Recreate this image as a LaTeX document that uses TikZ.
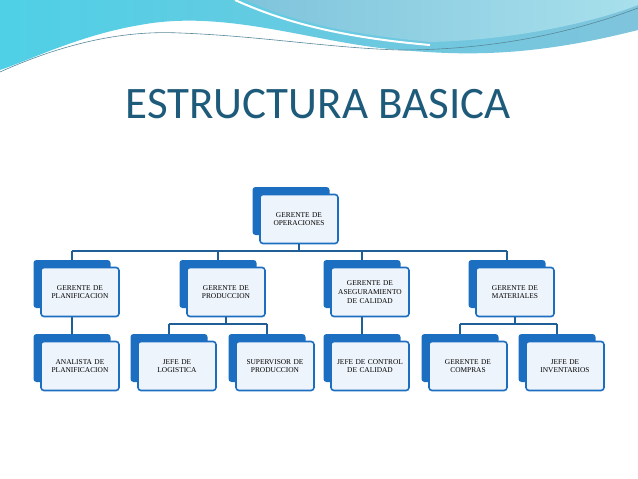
\documentclass[tikz,border=0pt]{standalone}
\usepackage{fontspec}
\setmainfont{Liberation Serif}
\newfontfamily\titlefont{Carlito}
\begin{document}
\begin{tikzpicture}[x=1pt,y=-1pt,
  backbox/.style={fill=myblue,rounded corners=3pt,minimum width=77pt,minimum height=48pt,inner sep=0pt},
  frontbox/.style={draw=myblue,line width=1.6pt,fill=boxfill,rounded corners=3pt,minimum width=78pt,minimum height=49pt,inner sep=1pt,align=center,font=\fontsize{7.4pt}{8.6pt}\selectfont,text width=76pt},
  link/.style={draw=linkblue,line width=1.6pt}]
\definecolor{myblue}{HTML}{1C6EC0}
\definecolor{boxfill}{HTML}{EEF4FB}
\definecolor{linkblue}{HTML}{1F5E96}
\definecolor{titlecol}{HTML}{1E5B7A}
\definecolor{waveA}{HTML}{7FC4DC}
\definecolor{waveB}{HTML}{4FD0E6}
\definecolor{waveC}{HTML}{A8E0EC}
\useasboundingbox (0,0) rectangle (638,479);
\fill[white] (0,0) rectangle (638,479);
% waves
\shade[left color=waveB,right color=waveA] (0,0) -- (638,0) -- (638,30) .. controls (520,60) and (450,55) .. (380,48) .. controls (300,38) and (220,10) .. (140,25) .. controls (80,35) and (30,60) .. (0,70) -- cycle;
\shade[left color=waveA,right color=waveC] (245,0) .. controls (300,25) and (360,35) .. (430,42) .. controls (520,40) and (600,20) .. (638,5) -- (638,0) -- cycle;
\draw[white,line width=2pt] (235,0) .. controls (290,25) and (350,38) .. (430,45);
\draw[waveA!70!black,line width=0.6pt] (0,72) .. controls (60,45) and (120,30) .. (180,33) .. controls (260,36) and (330,48) .. (400,50) .. controls (500,50) and (580,30) .. (638,8);
\node[font=\titlefont\fontsize{45pt}{47pt}\selectfont,text=titlecol,anchor=base] (title) at (318,118) {ESTRUCTURA BASICA};
% boxes: back offset
\newcommand{\orgbox}[4]{%
  \node[backbox] (#1b) at (#2-8,#3-8) {};
  \node[frontbox] (#1) at (#2,#3) {#4};}
\orgbox{op}{299}{219}{GERENTE DE\\OPERACIONES}
\orgbox{pl}{80}{292}{GERENTE DE\\PLANIFICACION}
\orgbox{pr}{226}{292}{GERENTE DE\\PRODUCCION}
\orgbox{as}{370}{292}{GERENTE DE\\ASEGURAMIENTO\\DE CALIDAD}
\orgbox{ma}{515}{292}{GERENTE DE\\MATERIALES}
\orgbox{an}{80}{366}{ANALISTA DE\\PLANIFICACION}
\orgbox{jl}{177}{366}{JEFE DE\\LOGISTICA}
\orgbox{su}{275}{366}{SUPERVISOR DE\\PRODUCCION}
\orgbox{jc}{370}{366}{JEFE DE CONTROL\\DE CALIDAD}
\orgbox{co}{468}{366}{GERENTE DE\\COMPRAS}
\orgbox{in}{565}{366}{JEFE DE\\INVENTARIOS}
% connectors
\path[link] (op.south) -- (op.south|-0,251);
\path[link] (plb.north|-0,251) -- (mab.north|-0,251);
\foreach \n in {plb,prb,asb,mab} \path[link] (\n.north|-0,251) -- (\n.north);
\path[link] (anb.north|-pl.south) -- (anb.north);
\path[link] (jcb.north|-as.south) -- (jcb.north);
\path[link] (pr.south) -- (pr.south|-0,324);
\path[link] (jlb.north|-0,324) -- (sub.north|-0,324);
\path[link] (jlb.north|-0,324) -- (jlb.north);
\path[link] (sub.north|-0,324) -- (sub.north);
\path[link] (ma.south) -- (ma.south|-0,324);
\path[link] (cob.north|-0,324) -- (inb.north|-0,324);
\path[link] (cob.north|-0,324) -- (cob.north);
\path[link] (inb.north|-0,324) -- (inb.north);
\end{tikzpicture}
\end{document}
